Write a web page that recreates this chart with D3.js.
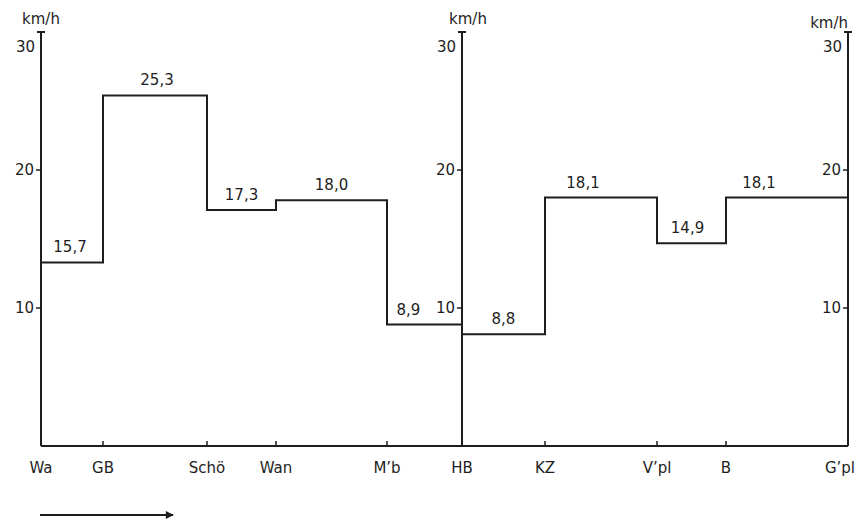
<!DOCTYPE html>
<html>
<head>
<meta charset="utf-8">
<script src="https://cdn.jsdelivr.net/npm/d3@7"></script>
<style>
  body { margin: 0; background: #fff; }
  svg text { font-family: "DejaVu Sans", sans-serif; font-size: 15px; fill: #1e1e1e; }
</style>
</head>
<body>
<svg id="chart" width="856" height="523"></svg>
<script>
// stations along the line, position in relative distance units
var stations = ['Wa', 'GB', 'Schö', 'Wan', 'M’b', 'HB', 'KZ', 'V’pl', 'B', 'G’pl'];
var stationPos = [0, 0.62, 1.66, 2.35, 3.46, 4.21, 5.04, 6.16, 6.85, 8.07];

// printed speed per section (km/h) and the level the original actually drew
var speedLabels = [15.7, 25.3, 17.3, 18.0, 8.9, 8.8, 18.1, 14.9, 18.1];
var drawnLevel = [13.3, 25.4, 17.1, 17.8, 8.8, 8.1, 18.0, 14.7, 18.0];

// the three speed axes stand at these stations
var axisStations = ['Wa', 'HB', 'G’pl'];
var yTicks = [10, 20, 30];

var svg = d3.select('#chart');
var ink = '#1e1e1e';

var x = d3.scaleLinear().domain([0, 8.07]).range([41, 848]);
var y = d3.scaleLinear().domain([0, 30]).range([446, 32]);

var fmt = function (v) { return d3.format('.1f')(v).replace('.', ','); };

// baseline
svg.append('line')
    .attr('x1', x(0)).attr('x2', x(8.07))
    .attr('y1', y(0)).attr('y2', y(0))
    .attr('stroke', ink).attr('stroke-width', 2);

// station ticks + names
stations.forEach(function (s, i) {
    var px = x(stationPos[i]);
    var last = i == stations.length - 1;
    if (axisStations.indexOf(s) < 0) {
        svg.append('line')
            .attr('x1', px).attr('x2', px)
            .attr('y1', y(0)).attr('y2', y(0) - 5)
            .attr('stroke', ink).attr('stroke-width', 1.5);
    }
    svg.append('text')
        .attr('x', last ? 855 : px).attr('y', 473)
        .attr('text-anchor', last ? 'end' : 'middle')
        .text(s);
});

// vertical speed axes
axisStations.forEach(function (s, k) {
    var px = x(stationPos[stations.indexOf(s)]);
    var g = svg.append('g');
    g.append('line')
        .attr('x1', px).attr('x2', px)
        .attr('y1', y(0)).attr('y2', y(30))
        .attr('stroke', ink).attr('stroke-width', 2);
    g.append('line')
        .attr('x1', px - 4).attr('x2', px + 4)
        .attr('y1', y(30)).attr('y2', y(30))
        .attr('stroke', ink).attr('stroke-width', 2);
    yTicks.forEach(function (t) {
        if (t < 30) {
            g.append('line')
                .attr('x1', px - 5).attr('x2', px)
                .attr('y1', y(t)).attr('y2', y(t))
                .attr('stroke', ink).attr('stroke-width', 1.5);
        }
        g.append('text')
            .attr('x', px - (t < 30 ? 7 : 6))
            .attr('y', (t < 30 ? y(t) : y(t) + 15) + 5)
            .attr('text-anchor', 'end')
            .text(t);
    });
    g.append('text')
        .attr('x', k == 2 ? px : px + (k == 1 ? 6 : 0))
        .attr('y', k == 2 ? 28 : 24)
        .attr('text-anchor', k == 2 ? 'end' : 'middle')
        .text('km/h');
});

// speed profile as a step line
var pts = drawnLevel.map(function (v, i) { return [stationPos[i], v]; });
pts.push([stationPos[stationPos.length - 1], drawnLevel[drawnLevel.length - 1]]);

var line = d3.line()
    .x(function (d) { return x(d[0]); })
    .y(function (d) { return y(d[1]); })
    .curve(d3.curveStepAfter);

svg.append('path')
    .attr('d', line(pts))
    .attr('fill', 'none')
    .attr('stroke', ink)
    .attr('stroke-width', 2);

// section labels, nudged a little where the original did
var nudge = [-2, 2, 0, 0, -16, 0, -18, -4, -28];
speedLabels.forEach(function (v, i) {
    var cx = (x(stationPos[i]) + x(stationPos[i + 1])) / 2 + nudge[i];
    svg.append('text')
        .attr('x', cx)
        .attr('y', y(drawnLevel[i]) - 10)
        .attr('text-anchor', 'middle')
        .text(fmt(v));
});

// direction arrow
svg.append('defs').append('marker')
    .attr('id', 'head')
    .attr('viewBox', '0 0 10 10')
    .attr('refX', 9).attr('refY', 5)
    .attr('markerWidth', 14).attr('markerHeight', 8)
    .attr('markerUnits', 'userSpaceOnUse')
    .attr('orient', 'auto')
    .append('path')
    .attr('d', 'M0,0L10,5L0,10Z')
    .attr('fill', ink);

svg.append('line')
    .attr('x1', 40).attr('x2', 173)
    .attr('y1', 515).attr('y2', 515)
    .attr('stroke', ink).attr('stroke-width', 2)
    .attr('marker-end', 'url(#head)');
</script>
</body>
</html>
